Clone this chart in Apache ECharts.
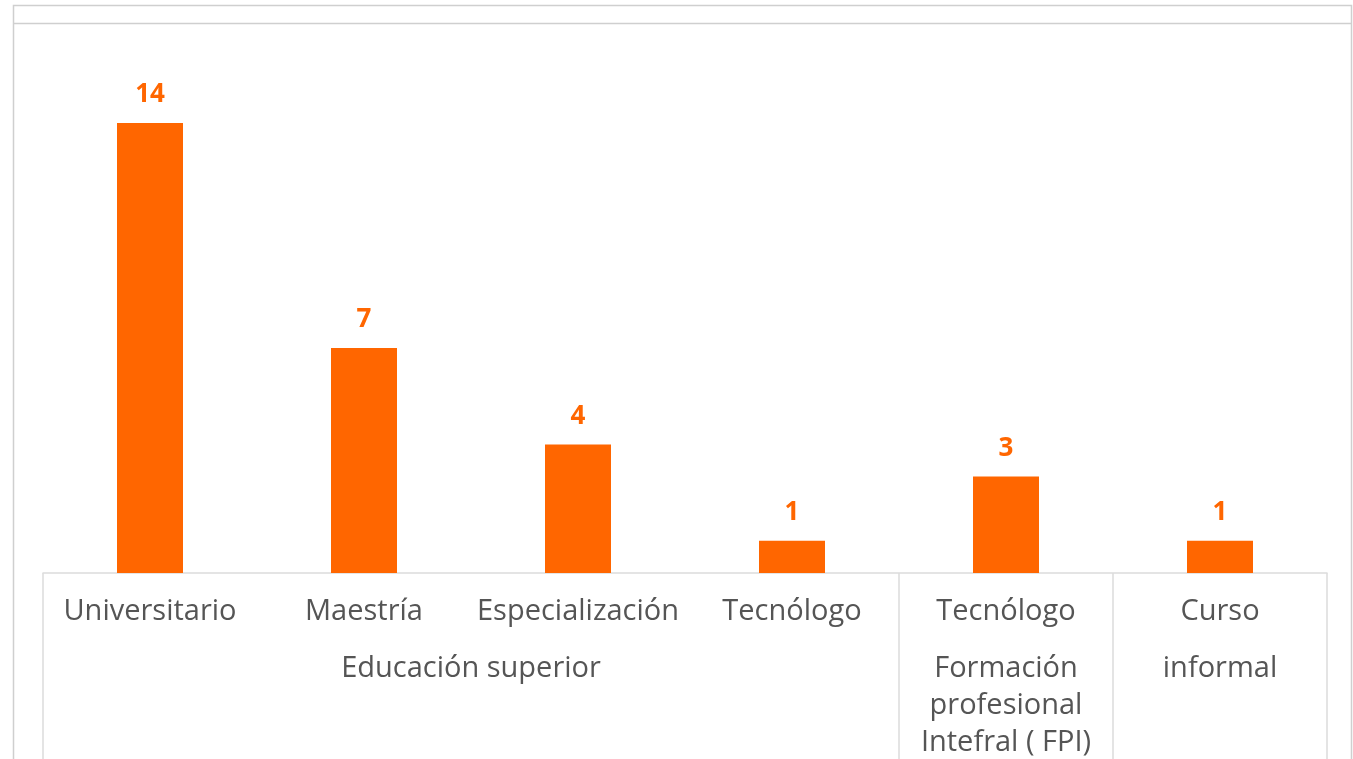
<!DOCTYPE html>
<html>
<head>
<meta charset="utf-8">
<script src="https://cdn.jsdelivr.net/npm/echarts@6/dist/echarts.min.js"></script>
<style>
html,body{margin:0;padding:0;background:#fff;}
#chart{width:1353px;height:759px;}
</style>
</head>
<body>
<div id="chart"></div>
<script>
const categories = ['Universitario', 'Maestría', 'Especialización', 'Tecnólogo', 'Tecnólogo', 'Curso'];
const values = [14, 7, 4, 1, 3, 1];
const groupNames = ['Educación superior', 'Formación\nprofesional\nIntefral ( FPI)', 'informal'];
const groupCenters = [2, 4.5, 5.5];
const groupBoundaries = [0, 4, 5, 6];

const chart = echarts.init(document.getElementById('chart'));
const textColor = '#555';
const font = '"Open Sans", sans-serif';

chart.setOption({
  animation: false,
  backgroundColor: '#fff',
  grid: { left: 43, right: 26, top: 123, bottom: 186, containLabel: false, outerBoundsMode: 'none' },
  xAxis: [
    {
      type: 'category',
      data: categories,
      position: 'bottom',
      axisLine: { show: true, lineStyle: { color: '#dcdcdc', width: 1.5 } },
      axisTick: { show: false },
      axisLabel: { interval: 0, margin: 24, color: textColor, fontSize: 29, fontFamily: font }
    },
    {
      type: 'value',
      min: 0,
      max: 6,
      position: 'bottom',
      axisLine: { show: false },
      splitLine: { show: false },
      axisTick: { show: true, customValues: groupBoundaries, length: 190, inside: false, lineStyle: { color: '#dcdcdc', width: 1.5 } },
      axisLabel: {
        customValues: groupCenters,
        margin: 77,
        color: textColor, fontSize: 29, fontFamily: font, lineHeight: 37, align: 'center',
        formatter: function (v) {
          const i = groupCenters.indexOf(v);
          return i >= 0 ? groupNames[i] : '';
        }
      }
    }
  ],
  yAxis: { type: 'value', min: 0, max: 14, show: false },
  series: [{
    type: 'bar',
    xAxisIndex: 0,
    data: values,
    barWidth: 66,
    itemStyle: { color: '#ff6600' },
    label: { show: true, position: 'top', distance: 15, color: '#ff6600', fontSize: 26, fontWeight: 'bold', fontFamily: font }
  }],
  graphic: [
    { type: 'rect', silent: true, shape: { x: 13.5, y: 5.5, width: 1338, height: 800 }, style: { fill: 'none', stroke: '#cfcfcf', lineWidth: 1.5 } },
    { type: 'line', silent: true, shape: { x1: 13.5, y1: 23.5, x2: 1351.5, y2: 23.5 }, style: { stroke: '#cfcfcf', lineWidth: 1.5 } }
  ]
});
</script>
</body>
</html>
